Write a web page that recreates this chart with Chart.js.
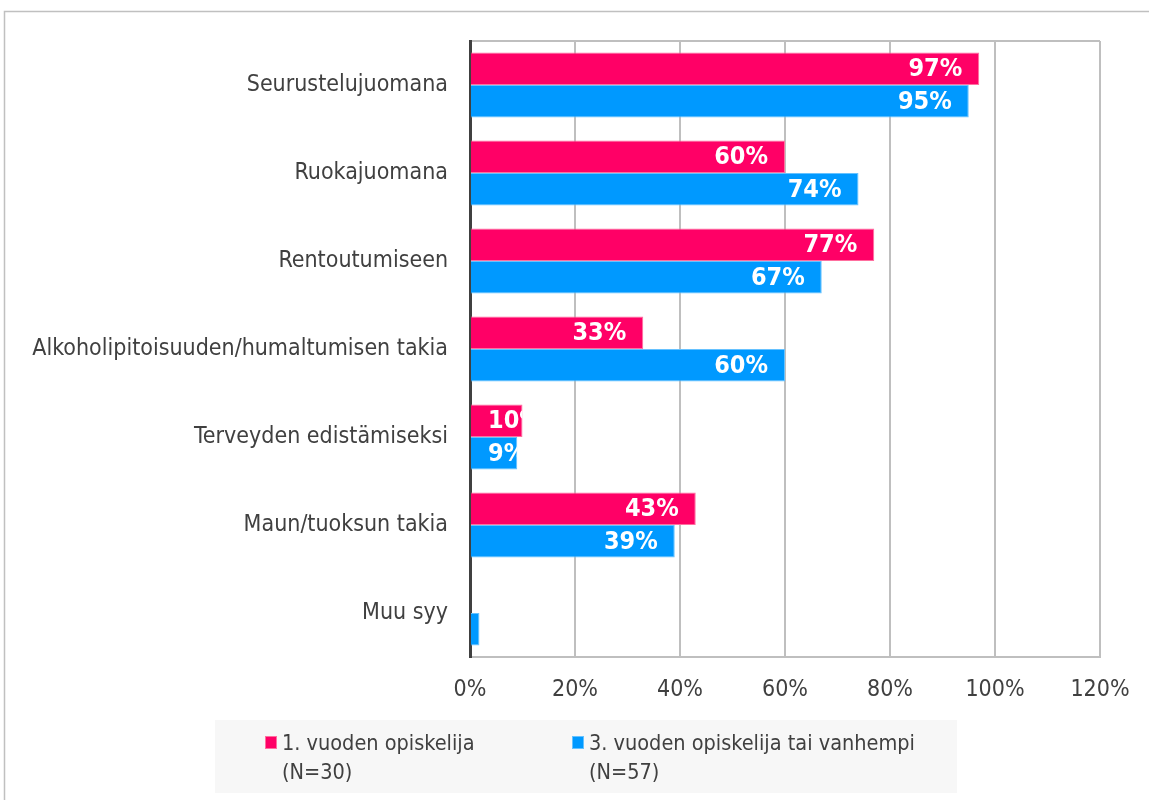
<!DOCTYPE html>
<html lang="fi">
<head>
  <meta charset="UTF-8">
  <title>Alkoholin käytön syyt</title>
  <script src="https://cdn.jsdelivr.net/npm/chart.js"></script>
  <style>
    html, body {
      margin: 0;
      padding: 0;
      background: #fff;
    }
    #wrap {
      position: relative;
      width: 1149px;
      height: 800px;
    }
  </style>
</head>
<body>
  <div id="wrap">
    <canvas id="reasonChart" width="1149" height="800"></canvas>
  </div>

  <script>
    const categories = [
      "Seurustelujuomana",
      "Ruokajuomana",
      "Rentoutumiseen",
      "Alkoholipitoisuuden/humaltumisen takia",
      "Terveyden edistämiseksi",
      "Maun/tuoksun takia",
      "Muu syy"
    ];
    const firstYear = [97, 60, 77, 33, 10, 43, 0];
    const thirdYear = [95, 74, 67, 60, 9, 39, 1.8];
    const seriesNames = ["1. vuoden opiskelija", "3. vuoden opiskelija tai vanhempi"];
    const seriesCounts = ["(N=30)", "(N=57)"];
    const xTicks = [0, 20, 40, 60, 80, 100, 120];

    const textColor = "#404040";
    const fontFamily = "'DejaVu Sans Condensed', 'DejaVu Sans', sans-serif";

    // white labels inside the end of each bar, clipped to the bar
    const barLabels = {
      id: "barLabels",
      afterDatasetsDraw(chart) {
        const ctx = chart.ctx;
        chart.data.datasets.forEach((ds, i) => {
          const meta = chart.getDatasetMeta(i);
          meta.data.forEach((bar, j) => {
            const v = ds.data[j];
            if (v < 3) return;
            const txt = Math.round(v) + "%";
            ctx.save();
            ctx.font = "bold 25px " + fontFamily;
            const w = ctx.measureText(txt).width;
            let x = bar.x - 17 - w;
            if (x < bar.base + 17) x = bar.base + 17;
            ctx.beginPath();
            ctx.rect(bar.base, bar.y - bar.height / 2, bar.x - bar.base, bar.height);
            ctx.clip();
            ctx.fillStyle = "#ffffff";
            ctx.textAlign = "left";
            ctx.textBaseline = "middle";
            ctx.fillText(txt, x, bar.y + 1);
            ctx.restore();
          });
        });
      }
    };

    // outer frame, plot top line and the two-line legend
    const frameAndLegend = {
      id: "frameAndLegend",
      beforeDraw(chart) {
        const ctx = chart.ctx;
        const a = chart.chartArea;
        ctx.save();
        ctx.strokeStyle = "#c0c0c0";
        ctx.lineWidth = 1.5;
        ctx.beginPath();
        ctx.moveTo(4.5, 800);
        ctx.lineTo(4.5, 11.5);
        ctx.lineTo(1149, 11.5);
        ctx.stroke();
        ctx.strokeStyle = "#bfbfbf";
        ctx.lineWidth = 2;
        ctx.beginPath();
        ctx.moveTo(a.left, a.top);
        ctx.lineTo(a.right, a.top);
        ctx.stroke();
        ctx.restore();
      },
      afterDraw(chart) {
        const ctx = chart.ctx;
        ctx.save();
        ctx.fillStyle = "#f7f7f7";
        ctx.fillRect(215, 720, 742, 73);
        const items = [
          { x: 265, color: "#ff0066", border: "#ff6f9f" },
          { x: 572, color: "#0099ff", border: "#66c2ff" }
        ];
        items.forEach((it, i) => {
          ctx.fillStyle = it.color;
          ctx.fillRect(it.x, 736, 12, 13);
          ctx.strokeStyle = it.border;
          ctx.lineWidth = 1;
          ctx.strokeRect(it.x + 0.5, 736.5, 11, 12);
          ctx.fillStyle = textColor;
          ctx.font = "21.5px " + fontFamily;
          ctx.textAlign = "left";
          ctx.textBaseline = "middle";
          ctx.fillText(seriesNames[i], it.x + 17, 744);
          ctx.fillText(seriesCounts[i], it.x + 17, 773);
        });
        ctx.restore();
      }
    };

    const ctx = document.getElementById("reasonChart").getContext("2d");
    new Chart(ctx, {
      type: "bar",
      data: {
        labels: categories,
        datasets: [
          {
            label: seriesNames[0],
            data: firstYear,
            backgroundColor: "#ff0066",
            borderColor: "#ff6f9f",
            borderWidth: 1,
            categoryPercentage: 0.74,
            barPercentage: 1.0
          },
          {
            label: seriesNames[1],
            data: thirdYear,
            backgroundColor: "#0099ff",
            borderColor: "#66c2ff",
            borderWidth: 1,
            categoryPercentage: 0.74,
            barPercentage: 1.0
          }
        ]
      },
      options: {
        indexAxis: "y",
        responsive: false,
        animation: false,
        layout: {
          padding: { top: 41, right: 49, bottom: 83, left: 0 }
        },
        plugins: {
          legend: { display: false },
          tooltip: { enabled: false }
        },
        scales: {
          x: {
            min: 0,
            max: 120,
            afterBuildTicks: scale => {
              scale.ticks = xTicks.map(v => ({ value: v }));
            },
            afterFit: scale => { scale.height = 60; },
            ticks: {
              callback: value => value + "%",
              color: textColor,
              font: { family: fontFamily, size: 23 },
              padding: 19
            },
            grid: {
              color: "#bfbfbf",
              lineWidth: 2,
              drawTicks: false
            },
            border: { color: "#bfbfbf", width: 2 }
          },
          y: {
            afterFit: scale => { scale.width = 470; },
            ticks: {
              color: textColor,
              font: { family: fontFamily, size: 23 },
              padding: 22
            },
            grid: { display: false, drawTicks: false },
            border: { color: "#404040", width: 3 }
          }
        }
      },
      plugins: [frameAndLegend, barLabels]
    });
  </script>
</body>
</html>
